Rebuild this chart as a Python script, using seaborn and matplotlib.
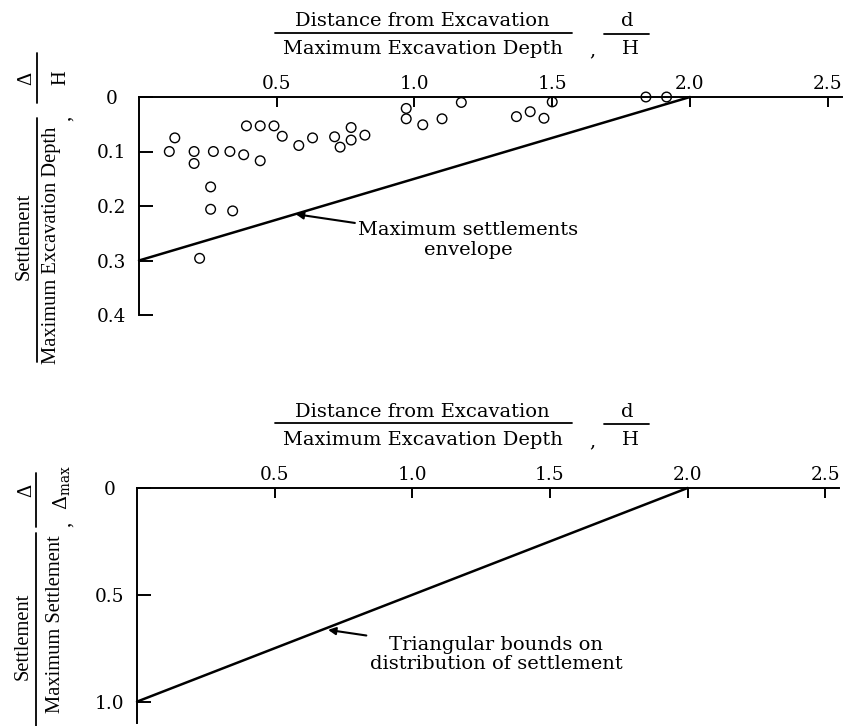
import numpy as np
import pandas as pd
import matplotlib
matplotlib.use("Agg")
import matplotlib.pyplot as plt
from matplotlib.lines import Line2D
import seaborn as sns

# Observed settlements, normalised by the maximum excavation depth
dist_ratio = [0.11, 0.13, 0.20, 0.20, 0.27, 0.33, 0.38, 0.44, 0.39, 0.44,
              0.49, 0.52, 0.58, 0.63, 0.71, 0.73, 0.77, 0.77, 0.82, 0.26,
              0.26, 0.34, 0.22, 0.97, 0.97, 1.03, 1.10, 1.17, 1.37, 1.42,
              1.47, 1.50, 1.84, 1.915]
settle_ratio = [0.100, 0.075, 0.100, 0.122, 0.100, 0.100, 0.106, 0.117, 0.053, 0.053,
                0.053, 0.072, 0.089, 0.075, 0.073, 0.092, 0.056, 0.079, 0.070, 0.165,
                0.206, 0.209, 0.296, 0.021, 0.040, 0.051, 0.040, 0.010, 0.036, 0.027,
                0.039, 0.009, 0.000, 0.000]

# Envelope of maximum settlements (top) and triangular bound (bottom)
envelope_x = [0.0, 2.0]
envelope_y = [0.3, 0.0]
bound_x = [0.0, 2.0]
bound_y = [1.0, 0.0]

x_ticks = [0.5, 1.0, 1.5, 2.0, 2.5]
x_ticklabels = ["0.5", "1.0", "1.5", "2.0", "2.5"]
top_y_ticks = [0.0, 0.1, 0.2, 0.3, 0.4]
top_y_ticklabels = ["0", "0.1", "0.2", "0.3", "0.4"]
bot_y_ticks = [0.0, 0.5, 1.0]
bot_y_ticklabels = ["0", "0.5", "1.0"]

sns.set_theme(style="white")
plt.rcParams["font.family"] = ["DejaVu Serif"]
plt.rcParams["mathtext.fontset"] = "dejavuserif"
for key in ["text.color", "axes.labelcolor", "xtick.color", "ytick.color"]:
    plt.rcParams[key] = "black"

W, H = 853, 726
fig = plt.figure(figsize=(W / 100, H / 100), dpi=100)
fig.patch.set_facecolor("white")


def fx(x):
    return x / W


def fy(y):
    return 1 - y / H


HFONT = dict(family="DejaVu Serif", size=14, color="black")
VFONT = dict(family="Liberation Serif", size=14.8, color="black")
TICK_SIZE = 13.3


def hline(x0, x1, y, lw=1.3):
    fig.add_artist(Line2D([fx(x0), fx(x1)], [fy(y), fy(y)], color="black", lw=lw))


def vline(x, y0, y1, lw=1.3):
    fig.add_artist(Line2D([fx(x), fx(x)], [fy(y0), fy(y1)], color="black", lw=lw))


def style_axis(ax, xmax, ybottom, yticks, yticklabels):
    ax.set_xlim(0, xmax)
    ax.set_ylim(ybottom, 0)
    ax.xaxis.tick_top()
    ax.set_xticks(x_ticks)
    ax.set_xticklabels(x_ticklabels, fontsize=TICK_SIZE)
    ax.set_yticks(yticks)
    ax.set_yticklabels(yticklabels, fontsize=TICK_SIZE, ha="center")
    for side in ["bottom", "right"]:
        ax.spines[side].set_visible(False)
    for side in ["top", "left"]:
        ax.spines[side].set_color("black")
        ax.spines[side].set_linewidth(1.4)
    ax.tick_params(axis="x", direction="in", length=7, width=1.4, pad=3,
                   top=True, bottom=False, labeltop=True, labelbottom=False,
                   colors="black")
    ax.tick_params(axis="y", direction="in", length=10, width=1.4, pad=19.5,
                   left=True, right=False, colors="black")
    ax.set_xlabel("")
    ax.set_ylabel("")
    ax.grid(False)
    ax.set_facecolor("white")


# ---- Top panel: settlement / excavation depth ----
ax1 = fig.add_axes([fx(139), fy(315), (841.5 - 139) / W, (315 - 97) / H])
ax1.spines["left"].set_bounds(0.4, 0)
pts = pd.DataFrame({"d_over_H": dist_ratio, "delta_over_H": settle_ratio})
sns.scatterplot(data=pts, x="d_over_H", y="delta_over_H", ax=ax1, marker="o",
                s=48, facecolors="none", edgecolors="black", linewidth=1.0,
                clip_on=False, zorder=3)
sns.lineplot(x=envelope_x, y=envelope_y, ax=ax1, color="black", lw=1.8,
             sort=False, clip_on=False)
style_axis(ax1, 2.55, 0.4, top_y_ticks, top_y_ticklabels)
ax1.annotate("Maximum settlements\nenvelope", xy=(0.569, 0.215),
             xytext=(1.195, 0.262), ha="center", va="center",
             fontsize=14, linespacing=1.15, color="black",
             arrowprops=dict(arrowstyle="-|>", color="black", lw=1.5,
                             mutation_scale=11, shrinkA=62, shrinkB=0))

# ---- Bottom panel: settlement / maximum settlement ----
ax2 = fig.add_axes([fx(137), fy(723), (839 - 137) / W, (723 - 488) / H])
sns.lineplot(x=bound_x, y=bound_y, ax=ax2, color="black", lw=1.8,
             sort=False, clip_on=False)
style_axis(ax2, 2.55, 1.1, bot_y_ticks, bot_y_ticklabels)
ax2.annotate("Triangular bounds on\ndistribution of settlement", xy=(0.694, 0.664),
             xytext=(1.304, 0.78), ha="center", va="center",
             fontsize=14, linespacing=1.1, color="black",
             arrowprops=dict(arrowstyle="-|>", color="black", lw=1.5,
                             mutation_scale=11, shrinkA=70, shrinkB=0))


# ---- Fraction-style axis titles ----
def x_title(y_num, y_bar, y_den):
    fig.text(fx(422), fy(y_num), "Distance from Excavation", ha="center",
             va="center", **HFONT)
    hline(275, 572, y_bar)
    fig.text(fx(423), fy(y_den), "Maximum Excavation Depth", ha="center",
             va="center", **HFONT)
    fig.text(fx(592), fy(y_den + 1), ",", ha="center", va="center", **HFONT)
    fig.text(fx(627), fy(y_num), "d", ha="center", va="center", **HFONT)
    hline(604, 649, y_bar + 1)
    fig.text(fx(630), fy(y_den), "H", ha="center", va="center", **HFONT)


x_title(21, 33, 49)
x_title(412, 423, 440)

# top y title
fig.text(fx(24), fy(236), "Settlement", rotation=90, ha="center", va="center", **VFONT)
vline(37, 118, 362)
fig.text(fx(52), fy(245), "Maximum Excavation Depth", rotation=90, ha="center",
         va="center", **VFONT)
fig.text(fx(65), fy(118), ",", rotation=90, ha="center", va="center", **VFONT)
fig.text(fx(27), fy(78), "Δ", rotation=90, ha="center", va="center", **VFONT)
vline(37, 53, 103)
fig.text(fx(61), fy(78), "H", rotation=90, ha="center", va="center", **VFONT)

# bottom y title
fig.text(fx(23), fy(636), "Settlement", rotation=90, ha="center", va="center", **VFONT)
vline(36, 533, 726)
fig.text(fx(56), fy(624), "Maximum Settlement", rotation=90, ha="center",
         va="center", **VFONT)
fig.text(fx(65), fy(524), ",", rotation=90, ha="center", va="center", **VFONT)
fig.text(fx(27), fy(490), "Δ", rotation=90, ha="center", va="center", **VFONT)
vline(36, 473, 527)
fig.text(fx(62), fy(488), r"$\Delta_{\mathrm{max}}$", rotation=90, ha="center",
         va="center", size=14, color="black")

fig.savefig("out.png", dpi=100, facecolor="white")
